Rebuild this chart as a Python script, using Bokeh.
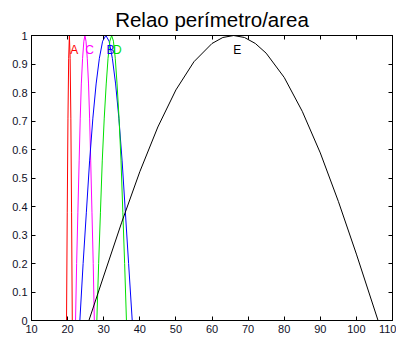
from bokeh.plotting import figure
from bokeh.models import Range1d, LinearAxis, FixedTicker, CustomJSTickFormatter, Label
from bokeh.embed import file_html
from bokeh.resources import INLINE

title_text = "Relao perímetro/area"
x_ticks = [10, 20, 30, 40, 50, 60, 70, 80, 90, 100, 110]
y_ticks = [0, 0.1, 0.2, 0.3, 0.4, 0.5, 0.6, 0.7, 0.8, 0.9, 1.0]

# membership curves
a_x = [19.7, 19.9, 20.1, 20.3, 20.5, 20.7, 20.9, 21.1, 21.3]
a_y = [0, 0.38, 0.71, 0.92, 1.0, 0.92, 0.71, 0.38, 0]

c_x = [22.2, 22.5, 22.85, 23.2, 23.5, 23.8, 24.15, 24.5, 24.8, 25.1, 25.45, 25.8, 26.1, 26.4, 26.75, 27.1, 27.4]
c_y = [0, 0.2, 0.38, 0.56, 0.71, 0.83, 0.92, 0.98, 1.0, 0.98, 0.92, 0.83, 0.71, 0.56, 0.38, 0.2, 0]

b_x = [23.4, 24.3, 25.2, 26.1, 27.0, 27.9, 28.8, 29.7, 30.6, 31.5, 32.4, 33.3, 34.2, 35.1, 36.0, 36.9, 37.9]
b_y = [0, 0.2, 0.38, 0.56, 0.71, 0.83, 0.92, 0.98, 1.0, 0.98, 0.92, 0.83, 0.71, 0.56, 0.38, 0.2, 0]

d_x = [28.1, 28.6, 29.1, 29.6, 30.15, 30.7, 31.2, 31.7, 32.2, 32.7, 33.2, 33.7, 34.25, 34.8, 35.3, 35.8, 36.3]
d_y = [0, 0.2, 0.38, 0.56, 0.71, 0.83, 0.92, 0.98, 1.0, 0.98, 0.92, 0.83, 0.71, 0.56, 0.38, 0.2, 0]

e_x = [25.9, 30, 35, 40, 45, 50, 55, 60, 63, 66, 69, 72, 75, 80, 85, 90, 95, 100, 106]
e_y = [0, 0.156, 0.345, 0.522, 0.679, 0.809, 0.908, 0.972, 0.993, 1.0, 0.993, 0.972, 0.938, 0.853, 0.734, 0.588, 0.418, 0.233, 0]

labels = ["A", "C", "B", "D", "E"]
label_x = [20.7, 24.9, 30.8, 32.6, 65.9]
label_y = [0.95, 0.95, 0.95, 0.95, 0.95]
colors = ["#ff0000", "#ff00ff", "#0000ff", "#00e000", "#000000"]

FONT = "Liberation Sans"
TICK_COLOR = "#101028"

p = figure(width=396, height=338, x_range=Range1d(10, 110), y_range=Range1d(0, 1),
           output_backend="svg", toolbar_location=None,
           min_border_left=31, min_border_right=4, min_border_top=35, min_border_bottom=18)
p.title.text = title_text
p.title.align = "center"
p.title.text_font = FONT
p.title.text_font_size = "20.5px"
p.title.text_font_style = "normal"
p.title.text_color = "black"
p.title.standoff = 10
p.grid.visible = False
p.outline_line_color = "black"
p.outline_line_width = 1
p.background_fill_color = "white"
p.border_fill_color = "white"

for ax in p.xaxis:
    ax.ticker = FixedTicker(ticks=x_ticks)
    ax.formatter = CustomJSTickFormatter(code="return String(Math.round(tick));")
for ax in p.yaxis:
    ax.ticker = FixedTicker(ticks=y_ticks)
    ax.formatter = CustomJSTickFormatter(code="return String(Math.round(tick*10)/10);")
for ax in list(p.xaxis) + list(p.yaxis):
    ax.major_tick_in = 4
    ax.major_tick_out = 0
    ax.minor_tick_in = 0
    ax.minor_tick_out = 0
    ax.axis_line_color = "black"
    ax.major_tick_line_color = "black"
    ax.major_label_text_font = FONT
    ax.major_label_text_font_size = "11px"
    ax.major_label_text_color = TICK_COLOR
    ax.major_label_standoff = 4

top = LinearAxis(ticker=FixedTicker(ticks=x_ticks),
                 formatter=CustomJSTickFormatter(code="return '';"),
                 major_tick_in=4, major_tick_out=0, minor_tick_in=0, minor_tick_out=0,
                 major_label_text_font_size="1px", major_label_standoff=0)
right = LinearAxis(ticker=FixedTicker(ticks=y_ticks),
                   formatter=CustomJSTickFormatter(code="return '';"),
                   major_tick_in=4, major_tick_out=0, minor_tick_in=0, minor_tick_out=0,
                   major_label_text_font_size="1px", major_label_standoff=0)
p.add_layout(top, "above")
p.add_layout(right, "right")

series = [(a_x, a_y), (c_x, c_y), (b_x, b_y), (d_x, d_y), (e_x, e_y)]
for (xs, ys), col in zip(series, colors):
    p.line(xs, ys, line_color=col, line_width=1)

for t, lx, ly, col in zip(labels, label_x, label_y, colors):
    p.add_layout(Label(x=lx, y=ly, text=t, text_color=col, text_font=FONT,
                       text_font_size="12px", text_align="left", text_baseline="middle"))

open("out.html", "w").write(file_html(p, INLINE))
